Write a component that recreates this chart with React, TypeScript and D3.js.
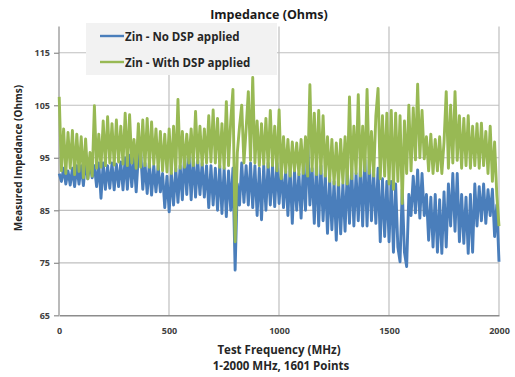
import React, { useRef, useEffect } from "react";
import * as d3 from "d3";

// frequency grid (MHz), one sample every ~10 MHz across 1-2000
const freqs: number[] = d3.range(201).map((i) => 1 + i * 9.995);

// Zin - No DSP applied (Ohms)
const noDsp: number[] = [
  92, 90.5, 93, 90, 92.5, 89.8, 93, 89.5, 93.5, 90,
  93.5, 89.7, 94.5, 91, 94, 91.2, 93.5, 89.5, 94, 87.3,
  94, 89, 93.5, 89.2, 94, 88.9, 93.8, 89.5, 94.2, 88.9,
  95, 89, 95.5, 89.5, 95, 88.5, 95.5, 96.5, 89, 94,
  88.2, 94, 87.9, 93.5, 88.5, 93.5, 88.5, 92, 85.5, 91.5,
  84.7, 92, 86, 93, 86.5, 93.5, 87, 95.5, 88, 95.9,
  87, 95.2, 87.5, 94.5, 88, 94, 87.5, 93.5, 85.5, 93.5,
  86, 93, 85, 93.5, 84.4, 93, 83.8, 92.5, 85, 93,
  73.6, 90, 86, 94, 86.5, 93.5, 86, 94, 85.5, 93.5,
  84, 93, 83.2, 93.5, 85, 94, 86, 93.5, 85.7, 94,
  86.3, 93, 85.5, 92.5, 84, 93, 82.5, 92.5, 85, 92,
  83.5, 93, 85, 98.3, 86, 93, 82.5, 94, 82, 93.5,
  83, 92, 80.6, 91, 81.3, 90.5, 79.3, 91, 80.5, 90,
  81, 92.5, 82.5, 93, 82, 92, 83, 93.5, 82, 94.6,
  82, 94.6, 83, 92, 82.5, 93, 79, 91, 80, 90.5,
  79, 90.5, 77, 90, 78, 75.2, 89, 77, 74.3, 88,
  84, 91.5, 84.5, 92.7, 83.5, 92, 84, 88, 79.3, 87.5,
  78, 88, 77, 87, 76.8, 88.5, 78, 90, 82, 92,
  81, 92, 79, 88, 78.7, 87.5, 76.8, 88, 77, 90,
  82, 89.5, 83, 90, 82.5, 88.9, 84, 89, 80, 86,
  75.2,
];

// Zin - With DSP applied (Ohms)
const withDsp: number[] = [
  106.6, 92.5, 100.5, 92, 99.8, 93, 100.2, 91.8, 99.5, 92.4,
  99, 91.2, 98.6, 91, 96, 91.5, 104.9, 93, 99.5, 93.2,
  102, 93.5, 102.8, 94, 101.5, 93.6, 102.2, 94.2, 101, 93.8,
  103.5, 93.5, 103.2, 94, 98.5, 93, 101.5, 93.2, 102.2, 93.5,
  102.5, 93.2, 101.8, 93.8, 100.5, 92.8, 100, 92.5, 99.5, 92.3,
  100.5, 92, 101, 92.5, 106.1, 93, 100, 93.2, 99.5, 94,
  100.5, 93.5, 103.8, 94, 101, 93.6, 100.5, 94, 103, 94.2,
  104.1, 94, 102.5, 93.2, 101.5, 93, 105.7, 93.5, 102, 108,
  79, 96, 101, 105, 94, 100.5, 107.6, 94.5, 110.3, 94,
  102, 93.5, 101.5, 93.8, 102.5, 93.2, 104, 93.5, 101, 92.5,
  104.1, 91, 99, 92.2, 98.5, 91.5, 98, 92.5, 97.8, 91.8,
  98.5, 92, 99, 91.5, 108.9, 92.5, 103.5, 91.8, 104, 92,
  103, 91.5, 99, 90.5, 98.5, 90, 97.8, 89.8, 98.5, 90.2,
  99, 90, 106.6, 91, 101, 92, 107, 91.5, 101, 92.5,
  108, 92, 100, 91.5, 103, 108.2, 91, 103, 91.5, 103.5,
  90, 104, 89, 103.5, 90.5, 103, 86.3, 102, 92, 105,
  92.5, 104.5, 94.6, 109, 95, 104, 94.8, 99, 92.5, 99.5,
  92, 98.5, 92.5, 99, 92, 98, 107.6, 93, 105, 94,
  107.6, 94.5, 103, 93, 102.5, 93.5, 103, 93, 101, 93.5,
  101.5, 93, 101.6, 93.5, 100, 92, 101, 90.5, 98, 88,
  82,
];

const yTicks: number[] = [65, 75, 85, 95, 105, 115];
const xTicks: number[] = [0, 500, 1000, 1500, 2000];
const seriesNames: string[] = ["Zin - No DSP applied", "Zin - With DSP applied"];
const seriesColors: string[] = ["#4a7ebb", "#98b954"];

const font = "'Open Sans', 'Noto Sans', sans-serif";

export default function App() {
  const ref = useRef<SVGSVGElement>(null);

  useEffect(() => {
    const width = 515;
    const height = 377;
    const svg = d3.select(ref.current);
    svg.selectAll("*").remove();
    svg.attr("width", width).attr("height", height).style("font-family", font);

    svg.append("rect").attr("width", width).attr("height", height).attr("fill", "#fff");

    const x = d3.scaleLinear().domain([0, 2000]).range([59, 499]);
    const y = d3.scaleLinear().domain([65, 120]).range([315.3, 26.5]);

    // horizontal grid
    svg.append("g")
      .selectAll("line")
      .data(yTicks.slice(1))
      .join("line")
      .attr("x1", x(0)).attr("x2", x(2000))
      .attr("y1", (d) => y(d)).attr("y2", (d) => y(d))
      .attr("stroke", "#bfbfbf").attr("stroke-width", 1.2);

    // vertical grid
    svg.append("g")
      .selectAll("line")
      .data(xTicks.slice(1))
      .join("line")
      .attr("x1", (d) => x(d)).attr("x2", (d) => x(d))
      .attr("y1", y(120)).attr("y2", y(65))
      .attr("stroke", "#bfbfbf").attr("stroke-width", 1.2);

    // left axis
    const yAxis = svg.append("g")
      .attr("transform", `translate(${x(0)},0)`)
      .call(d3.axisLeft(y).tickValues(yTicks).tickSize(5).tickSizeOuter(0).tickPadding(4));
    yAxis.select(".domain").remove();
    yAxis.append("line")
      .attr("y1", y(120)).attr("y2", y(65))
      .attr("stroke", "#8c8c8c").attr("stroke-width", 1.2);
    yAxis.selectAll(".tick line").attr("stroke", "#8c8c8c").attr("stroke-width", 1.2);
    yAxis.selectAll("text")
      .attr("font-size", 9).attr("font-weight", "bold")
      .attr("fill", "#404040").attr("font-family", font);

    // bottom axis
    const xAxis = svg.append("g")
      .attr("transform", `translate(0,${y(65)})`)
      .call(d3.axisBottom(x).tickValues(xTicks).tickFormat(d3.format("d")).tickSize(0).tickPadding(12));
    xAxis.select(".domain").attr("stroke", "#8c8c8c").attr("stroke-width", 1.6);
    xAxis.selectAll("text")
      .attr("font-size", 9).attr("font-weight", "bold")
      .attr("fill", "#404040").attr("font-family", font);

    // series lines (green on top)
    const line = d3.line<number>()
      .x((_, i) => x(freqs[i]))
      .y((d) => y(d));

    [noDsp, withDsp].forEach((vals, k) => {
      svg.append("path")
        .datum(vals)
        .attr("d", line)
        .attr("fill", "none")
        .attr("stroke", seriesColors[k])
        .attr("stroke-width", 2.9)
        .attr("stroke-linejoin", "round");
    });

    // legend
    const legend = svg.append("g");
    legend.append("rect")
      .attr("x", 86).attr("y", 23).attr("width", 191).attr("height", 52)
      .attr("fill", "#f2f2f2");
    seriesNames.forEach((name, k) => {
      const ly = 36 + k * 26;
      legend.append("line")
        .attr("x1", 100).attr("x2", 124).attr("y1", ly).attr("y2", ly)
        .attr("stroke", seriesColors[k]).attr("stroke-width", 2.4);
      legend.append("text")
        .attr("x", 125).attr("y", ly + 4.5)
        .attr("font-size", 11.5).attr("font-weight", "bold")
        .attr("fill", "#262626")
        .text(name);
    });

    // title
    svg.append("text")
      .attr("x", 269).attr("y", 19)
      .attr("text-anchor", "middle")
      .attr("font-size", 12.5).attr("font-weight", "bold")
      .attr("fill", "#1a1a1a")
      .text("Impedance (Ohms)");

    // y label
    svg.append("text")
      .attr("transform", "translate(22,158) rotate(-90)")
      .attr("text-anchor", "middle")
      .attr("font-size", 10).attr("font-weight", "bold")
      .attr("fill", "#262626")
      .text("Measured Impedance (Ohms)");

    // x label
    svg.append("text")
      .attr("x", 279).attr("y", 354)
      .attr("text-anchor", "middle")
      .attr("font-size", 11.5).attr("font-weight", "bold")
      .attr("fill", "#262626")
      .text("Test Frequency (MHz)");
    svg.append("text")
      .attr("x", 281).attr("y", 370)
      .attr("text-anchor", "middle")
      .attr("font-size", 11.5).attr("font-weight", "bold")
      .attr("fill", "#262626")
      .text("1-2000 MHz, 1601 Points");
  }, []);

  return (
    <svg ref={ref} style={{ position: "absolute", left: 0, top: 0 }}></svg>
  );
}
